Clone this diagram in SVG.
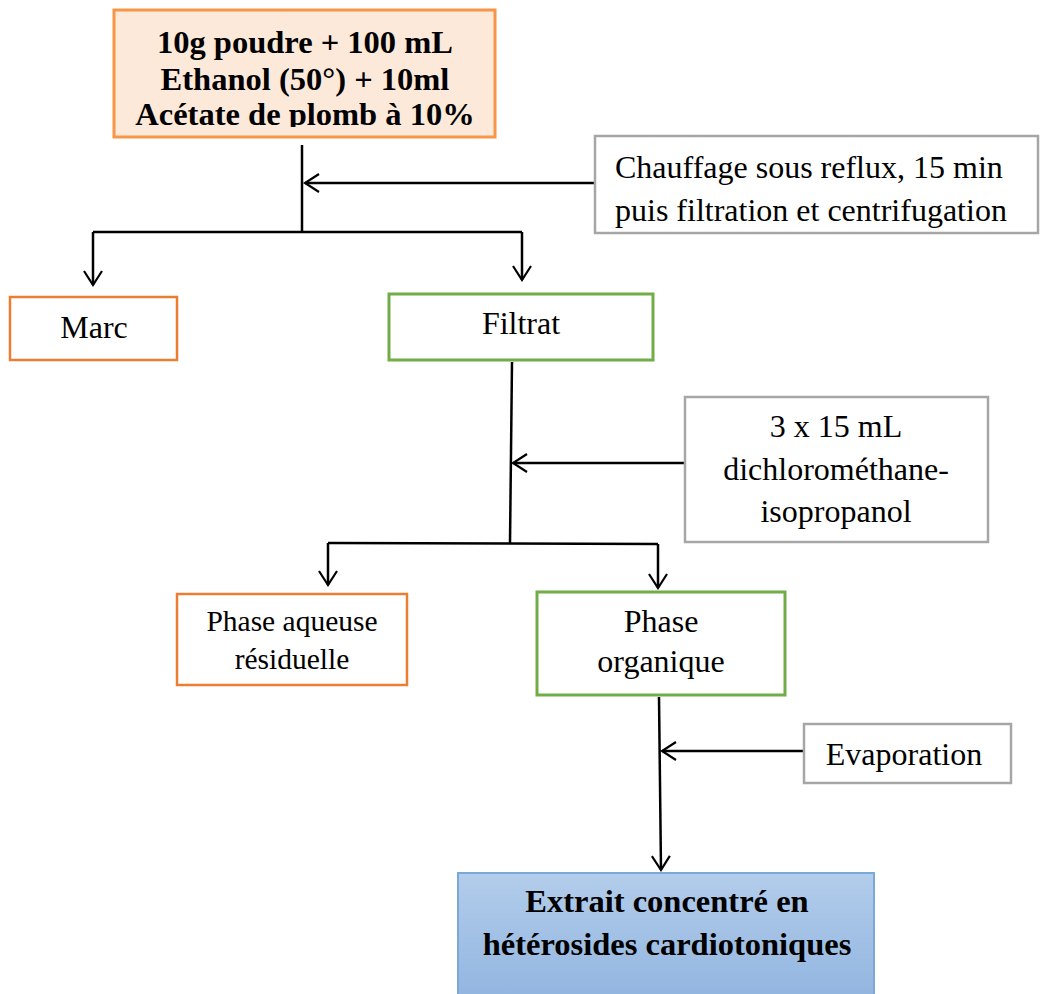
<svg xmlns="http://www.w3.org/2000/svg" width="1040" height="994" viewBox="0 0 1040 994">
<style>
text{font-family:"Liberation Serif","Times New Roman",serif;fill:#000;text-anchor:middle}
.b{font-weight:bold;font-size:32.5px}
.n{font-size:32px}
.s{font-size:29.5px}
.ln{stroke:#000;stroke-width:2.5;fill:none}
.org{fill:#fff;stroke:#ed7d31;stroke-width:2.5}
.grn{fill:#fff;stroke:#70ad47;stroke-width:3}
.gry{fill:#fff;stroke:#a6a6a6;stroke-width:2.5}
</style>
<defs>
<marker id="ah" viewBox="0 0 20 20" refX="18" refY="10" markerWidth="20" markerHeight="20" markerUnits="userSpaceOnUse" orient="auto">
<path d="M4,1 L18,10 L4,19" fill="none" stroke="#000" stroke-width="2.2"/>
</marker>
<linearGradient id="bl" x1="0" y1="0" x2="0" y2="1">
<stop offset="0" stop-color="#b3cdeb"/>
<stop offset="1" stop-color="#92b5e0"/>
</linearGradient>
<clipPath id="ctop"><rect x="114" y="10" width="381" height="117"/></clipPath>
<clipPath id="cch"><rect x="595" y="136" width="443" height="94"/></clipPath>
</defs>
<g id="connectors">
<path class="ln" d="M302,145 L302,232"/>
<path class="ln" d="M595,183 L305,183" marker-end="url(#ah)"/>
<path class="ln" d="M93,232 L522,232"/>
<path class="ln" d="M93,232 L93,285" marker-end="url(#ah)"/>
<path class="ln" d="M522,232 L522,280" marker-end="url(#ah)"/>
<path class="ln" d="M512,362 L510,543"/>
<path class="ln" d="M685,463 L513,463" marker-end="url(#ah)"/>
<path class="ln" d="M328,543 L658,544"/>
<path class="ln" d="M328,543 L328,585" marker-end="url(#ah)"/>
<path class="ln" d="M658,544 L658,588" marker-end="url(#ah)"/>
<path class="ln" d="M659,697 L661,870" marker-end="url(#ah)"/>
<path class="ln" d="M803,751 L662,751" marker-end="url(#ah)"/>
</g>
<g id="start">
<rect x="114" y="10" width="381" height="127" fill="#fde9d9" stroke="#f79646" stroke-width="3"/>
<g clip-path="url(#ctop)">
<text class="b" x="305" y="53">10g poudre + 100 mL</text>
<text class="b" x="305" y="90">Ethanol (50°) + 10ml</text>
<text class="b" x="305" y="125">Acétate de plomb à 10%</text>
</g>
</g>
<g id="chauffage">
<rect class="gry" x="595" y="136" width="443" height="97"/>
<g clip-path="url(#cch)">
<text class="n" x="615" y="178" style="text-anchor:start">Chauffage sous reflux, 15 min</text>
<text class="n" x="615" y="221" style="text-anchor:start">puis filtration et centrifugation</text>
</g>
</g>
<g id="marc">
<rect class="org" x="10" y="297" width="167" height="63"/>
<text class="n" x="94" y="338">Marc</text>
</g>
<g id="filtrat">
<rect class="grn" x="389" y="294" width="264" height="66"/>
<text class="n" x="521" y="334">Filtrat</text>
</g>
<g id="solvant">
<rect class="gry" x="685" y="397" width="303" height="145"/>
<text class="n" x="836" y="437">3 x 15 mL</text>
<text class="n" x="836" y="480">dichlorométhane-</text>
<text class="n" x="836" y="522">isopropanol</text>
</g>
<g id="aqueuse">
<rect class="org" x="177" y="594" width="230" height="91"/>
<text class="s" x="292" y="631">Phase aqueuse</text>
<text class="s" x="292" y="669">résiduelle</text>
</g>
<g id="organique">
<rect class="grn" x="537" y="592" width="248" height="103"/>
<text class="n" x="661" y="632">Phase</text>
<text class="n" x="661" y="672">organique</text>
</g>
<g id="evaporation">
<rect class="gry" x="804" y="724" width="207" height="59"/>
<text class="n" x="904" y="765">Evaporation</text>
</g>
<g id="extrait">
<rect x="458" y="873" width="416" height="125" fill="url(#bl)" stroke="#7ba7d9" stroke-width="2"/>
<text class="b" x="667" y="912">Extrait concentré en</text>
<text class="b" x="667" y="955">hétérosides cardiotoniques</text>
</g>
</svg>
